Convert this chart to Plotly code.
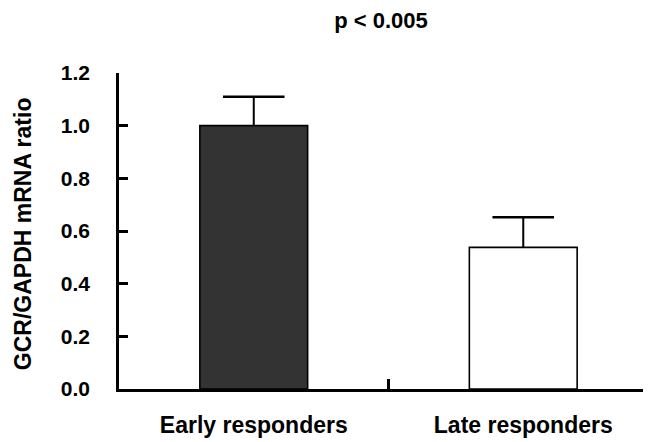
import plotly.graph_objects as go

categories = ["Early responders", "Late responders"]
values = [1.0, 0.538]
errors_up = [0.11, 0.114]
bar_colors = ["#333333", "#ffffff"]
y_ticks = [0.0, 0.2, 0.4, 0.6, 0.8, 1.0, 1.2]
y_tick_labels = ["0.0", "0.2", "0.4", "0.6", "0.8", "1.0", "1.2"]
title_text = "p < 0.005"
y_title = "GCR/GAPDH mRNA ratio"

FONT = "Liberation Sans, Arial, sans-serif"

# the page body has an 8px margin; size the figure so the visible frame matches
W, H = 643, 434
ML, MT, MB = 111, 65, 53

fig = go.Figure()
fig.add_trace(go.Bar(
    x=categories,
    y=values,
    width=0.4,
    marker=dict(color=bar_colors, line=dict(color="black", width=1.6)),
    error_y=dict(type="data", array=errors_up, arrayminus=[0, 0], symmetric=False,
                 color="black", thickness=2, width=0),
))
# error bar caps
fig.add_trace(go.Scatter(
    x=categories,
    y=[v + e for v, e in zip(values, errors_up)],
    mode="markers",
    marker=dict(symbol="line-ew", size=44, line=dict(color="black", width=2.5)),
    hoverinfo="skip",
))

fig.update_layout(
    width=W, height=H,
    margin=dict(l=ML, r=0, t=MT, b=MB, autoexpand=False),
    paper_bgcolor="white", plot_bgcolor="white",
    showlegend=False,
    font=dict(family=FONT, color="black"),
    title=dict(text="<b>" + title_text + "</b>", x=373 / W, xanchor="center",
               y=1 - 12 / H, yanchor="middle", font=dict(size=22, family=FONT)),
    annotations=[dict(
        text="<b>" + y_title + "</b>", textangle=-90,
        xref="paper", yref="paper",
        x=-(ML - 15) / (W - ML), y=0.49, xanchor="center", yanchor="middle",
        showarrow=False, font=dict(size=23, family=FONT),
    )],
)

fig.update_xaxes(
    range=[-0.5, 1.474],
    showline=True, linecolor="black", linewidth=2.7,
    ticks="inside", ticklen=10, tickwidth=2.5, tickcolor="black",
    tickson="boundaries",
    tickfont=dict(size=23, family=FONT),
    tickprefix="<b>", ticksuffix="</b>",
    ticklabelstandoff=14,
    showgrid=False, zeroline=False,
    automargin=False,
)

fig.update_yaxes(
    range=[0, 1.2],
    tickvals=y_ticks,
    ticktext=["<b>" + t + "</b>" for t in y_tick_labels],
    showline=True, linecolor="black", linewidth=2.5,
    ticks="inside", ticklen=9, tickwidth=2.5, tickcolor="black",
    tickfont=dict(size=21, family=FONT),
    ticklabelstandoff=22,
    showgrid=False, zeroline=False,
    automargin=False,
)

fig.write_html("out.html")
